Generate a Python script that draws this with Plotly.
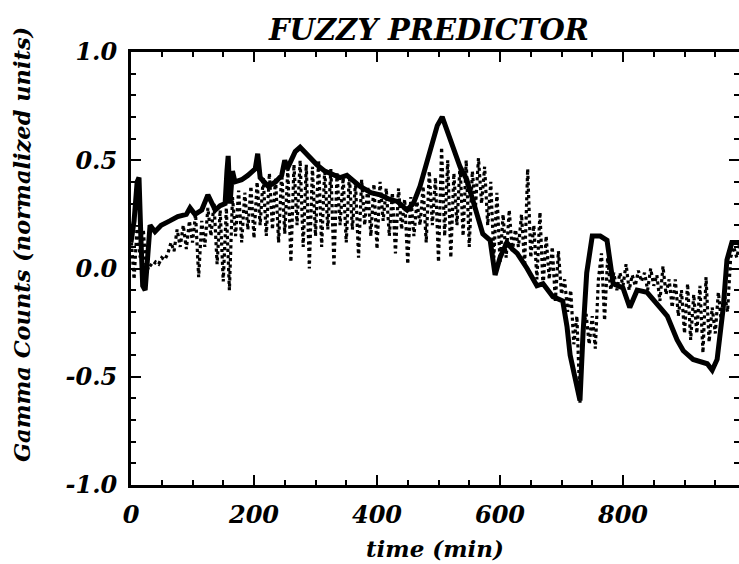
import plotly.graph_objects as go

# ---------------- data ----------------
title_text = "FUZZY PREDICTOR"
x_title = "time (min)"
y_title = "Gamma Counts (normalized units)"

x_tick_vals = [0, 200, 400, 600, 800]
x_tick_text = ["0", "200", "400", "600", "800"]
y_tick_vals = [-1.0, -0.5, 0.0, 0.5, 1.0]
y_tick_text = ["-1.0", "-0.5", "0.0", "0.5", "1.0"]

# fuzzy predictor output (solid, thick)
pred_t = [0, 5, 10, 13, 16, 19, 23, 27, 31, 39, 49, 63, 76, 90, 96, 104, 115, 125, 132, 137,
          145, 153, 156, 158, 161, 165, 169, 180, 190, 202, 206, 210, 223, 235, 245, 250, 254,
          260, 267, 275, 285, 291, 302, 315, 324, 340, 351, 372, 390, 405, 420, 433, 449, 459,
          470, 481, 490, 498, 506, 512, 519, 528, 535, 546, 556, 565, 572, 584, 592, 600, 611,
          620, 628, 644, 660, 670, 686, 702, 709, 714, 720, 725, 730, 735, 741, 750, 763, 774,
          779, 784, 800, 811, 823, 839, 860, 872, 888, 898, 914, 937, 945, 953, 963, 969, 977, 990]
pred_v = [0.12, 0.22, 0.40, 0.42, 0.15, -0.08, -0.10, 0.10, 0.20, 0.17, 0.20, 0.22, 0.24, 0.25,
          0.28, 0.25, 0.27, 0.34, 0.30, 0.27, 0.29, 0.30, 0.45, 0.52, 0.30, 0.45, 0.40, 0.41,
          0.43, 0.46, 0.53, 0.42, 0.38, 0.40, 0.43, 0.50, 0.46, 0.50, 0.54, 0.56, 0.53, 0.51,
          0.48, 0.45, 0.44, 0.42, 0.43, 0.38, 0.35, 0.34, 0.32, 0.31, 0.27, 0.30, 0.38, 0.49,
          0.58, 0.66, 0.70, 0.65, 0.59, 0.52, 0.47, 0.41, 0.32, 0.22, 0.16, 0.13, -0.03, 0.05,
          0.12, 0.09, 0.07, 0.00, -0.08, -0.07, -0.13, -0.15, -0.27, -0.40, -0.47, -0.55, -0.61,
          -0.30, -0.02, 0.15, 0.15, 0.13, 0.01, -0.07, -0.09, -0.18, -0.10, -0.11, -0.18, -0.22,
          -0.33, -0.38, -0.42, -0.44, -0.47, -0.42, -0.18, 0.04, 0.12, 0.12]

# measured gamma counts (dotted, noisy), sampled every 5 min
meas_t = list(range(0, 995, 5))
meas_v = [0.15, -0.05, 0.20, 0.05, 0.18, -0.02, 0.02, 0.01, 0.03, 0.02,
          0.05, 0.04, 0.07, 0.12, 0.08, 0.18, 0.10, 0.20, 0.09, 0.22,
          0.12, 0.25, -0.04, 0.22, 0.10, 0.28, 0.15, 0.30, 0.02, 0.27,
          -0.06, 0.28, -0.10, 0.33, 0.15, 0.36, 0.12, 0.35, 0.18, 0.38,
          0.14, 0.40, 0.20, 0.42, 0.15, 0.44, 0.18, 0.42, 0.12, 0.45,
          0.16, 0.46, 0.03, 0.48, 0.20, 0.50, 0.10, 0.48, 0.00, 0.47,
          0.15, 0.50, 0.10, 0.46, 0.18, 0.46, 0.01, 0.44, 0.20, 0.42,
          0.12, 0.43, 0.18, 0.40, 0.05, 0.41, 0.20, 0.38, 0.15, 0.39,
          0.09, 0.40, 0.22, 0.37, 0.15, 0.35, 0.07, 0.37, 0.18, 0.32,
          0.02, 0.33, 0.15, 0.31, 0.20, 0.38, 0.12, 0.45, 0.20, 0.42,
          0.03, 0.56, 0.15, 0.50, 0.05, 0.44, 0.20, 0.48, 0.15, 0.50,
          0.10, 0.45, 0.28, 0.51, 0.30, 0.47, 0.20, 0.40, 0.05, 0.35,
          0.03, 0.25, 0.05, 0.27, 0.08, 0.18, 0.10, 0.25, 0.01, 0.46,
          0.05, 0.20, -0.05, 0.26, -0.09, 0.15, -0.05, 0.10, -0.15, 0.08,
          -0.12, -0.05, -0.20, -0.10, -0.35, -0.22, -0.62, -0.27, -0.21, -0.35,
          -0.22, -0.37, -0.05, 0.07, -0.24, 0.05, -0.10, -0.02, -0.10, -0.02,
          -0.08, 0.02, -0.10, -0.03, -0.08, -0.01, -0.06, -0.02, -0.10, 0.00,
          -0.08, -0.03, -0.15, 0.01, -0.12, -0.05, -0.18, -0.05, -0.22, -0.10,
          -0.30, -0.07, -0.33, -0.12, -0.30, -0.08, -0.39, -0.04, -0.34, -0.18,
          -0.30, -0.11, -0.25, -0.12, -0.20, 0.05, 0.10, 0.05, 0.12]

# ---------------- figure ----------------
FONT = "DejaVu Serif"

fig = go.Figure()
fig.add_trace(go.Scatter(x=meas_t, y=meas_v, mode="lines", yaxis="y2",
                         line=dict(color="black", width=3.2, dash="dot"),
                         showlegend=False, hoverinfo="skip"))
fig.add_trace(go.Scatter(x=pred_t, y=pred_v, mode="lines",
                         line=dict(color="black", width=5),
                         showlegend=False, hoverinfo="skip"))

axis_font = dict(family=FONT, size=24, color="black", weight="bold", style="italic")
minor_x = dict(dtick=50, ticks="inside", ticklen=5, tickwidth=2, tickcolor="black")
minor_y = dict(dtick=0.1, ticks="inside", ticklen=5, tickwidth=2, tickcolor="black")

fig.update_layout(
    width=739, height=564,
    margin=dict(l=131, r=0, t=52, b=79),
    paper_bgcolor="white", plot_bgcolor="white",
    showlegend=False,
    xaxis=dict(range=[0, 988.6], tickvals=x_tick_vals, ticktext=x_tick_text,
               ticks="inside", ticklen=10, tickwidth=2, tickcolor="black", minor=minor_x,
               showline=True, linewidth=3, linecolor="black", mirror="ticks",
               showgrid=False, zeroline=False, tickfont=axis_font,
               ticklabelstandoff=6, automargin=False),
    yaxis=dict(range=[-1.0, 1.0], tickvals=y_tick_vals, ticktext=y_tick_text,
               ticks="inside", ticklen=10, tickwidth=2, tickcolor="black", minor=minor_y,
               showline=True, linewidth=3, linecolor="black", mirror=False,
               showgrid=False, zeroline=False, tickfont=axis_font,
               ticklabelstandoff=6, automargin=False),
    yaxis2=dict(range=[-1.0, 1.0], overlaying="y", side="right", tickvals=y_tick_vals,
                ticks="inside", ticklen=10, tickwidth=2, tickcolor="black", minor=minor_y,
                showticklabels=False, showline=False, showgrid=False, zeroline=False,
                automargin=False),
)

fig.add_annotation(text=title_text, xref="paper", yref="paper", x=0.49, y=1,
                   yshift=22, yanchor="middle", xanchor="center", showarrow=False,
                   font=dict(family=FONT, size=29, color="black", weight="bold", style="italic"))
fig.add_annotation(text=x_title, xref="paper", yref="paper", x=0.5, y=0,
                   yshift=-63, yanchor="middle", xanchor="center", showarrow=False,
                   font=dict(family=FONT, size=23, color="black", weight="bold", style="italic"))
fig.add_annotation(text=y_title, xref="paper", yref="paper", x=0, y=0.554,
                   xshift=-109, xanchor="center", yanchor="middle", textangle=-90,
                   showarrow=False,
                   font=dict(family=FONT, size=22.5, color="black", weight="bold", style="italic"))

fig.write_html("out.html", config={"displayModeBar": False},
               post_script="document.body.style.margin='0px';document.body.style.overflow='hidden';")
